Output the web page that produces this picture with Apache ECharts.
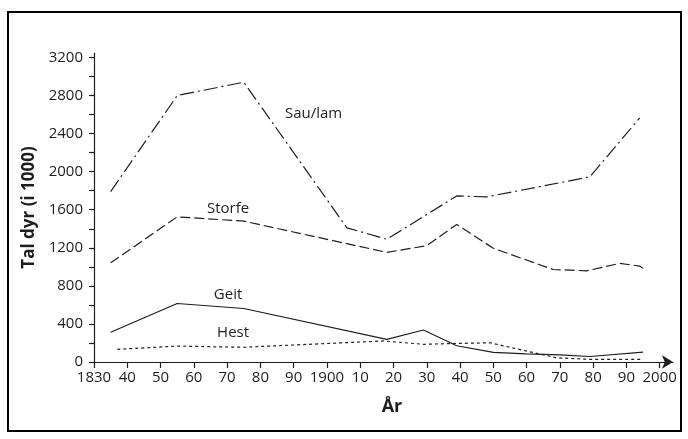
<!DOCTYPE html>
<html>
<head>
<meta charset="utf-8">
<script src="https://cdn.jsdelivr.net/npm/echarts@6/dist/echarts.min.js"></script>
<style>
  html, body { margin: 0; padding: 0; background: #fff; }
  #chart { width: 688px; height: 439px; }
</style>
</head>
<body>
<div id="chart"></div>
<script>
// values, [year, thousand animals]
const sauLam = [[1835, 1790], [1855, 2800], [1875, 2940], [1906, 1410], [1918, 1290],
  [1939, 1745], [1948, 1735], [1979, 1945], [1994, 2565]]
const storfe = [[1835, 1042], [1855, 1525], [1875, 1480], [1918, 1152], [1930, 1222],
  [1939, 1446], [1950, 1195], [1968, 972], [1978, 958], [1988, 1036], [1994, 1008], [1996, 958]]
const geit = [[1835, 313], [1855, 615], [1875, 562], [1918, 238], [1929, 336], [1939, 171],
  [1950, 102], [1960, 86], [1970, 75], [1979, 58], [1995, 104]]
const hest = [[1837, 133], [1855, 167], [1875, 155], [1917, 221], [1929, 186], [1939, 195],
  [1949, 202], [1969, 44], [1979, 28], [1995, 28]]

const xTickYears = [1830, 1840, 1850, 1860, 1870, 1880, 1890, 1900, 1910, 1920, 1930,
  1940, 1950, 1960, 1970, 1980, 1990, 2000]
const xTickLabels = ['1830', '40', '50', '60', '70', '80', '90', '1900', '10', '20', '30',
  '40', '50', '60', '70', '80', '90', '2000']
const yTickValues = [0, 200, 400, 600, 800, 1000, 1200, 1400, 1600, 1800, 2000, 2200,
  2400, 2600, 2800, 3000, 3200]
const yLabelValues = [0, 400, 800, 1200, 1600, 2000, 2400, 2800, 3200]

const INK = '#1e1e1e'
const FONT = 'Open Sans'

const chart = echarts.init(document.getElementById('chart'), null, { renderer: 'canvas' })

function lineSeries(name, data, dash, labelAt) {
  return {
    name,
    type: 'line',
    data,
    symbol: 'none',
    silent: true,
    animation: false,
    lineStyle: { color: INK, width: 1.2, type: dash },
    markPoint: {
      symbol: 'circle',
      symbolSize: 0,
      silent: true,
      itemStyle: { color: 'transparent' },
      label: { show: true, position: 'inside', formatter: name, color: INK, fontFamily: FONT, fontSize: 15 },
      data: [{ coord: labelAt }],
    },
  }
}

chart.setOption({
  backgroundColor: '#fff',
  animation: false,
  grid: { left: 94, top: 53, width: 579, height: 309 },
  xAxis: {
    type: 'value',
    min: 1830,
    max: 2004,
    name: 'År',
    nameLocation: 'middle',
    nameGap: 36,
    nameTextStyle: { color: INK, fontFamily: FONT, fontSize: 18, fontWeight: 'bold', padding: [0, 0, 0, 17] },
    axisLine: { show: true, symbol: ['none', 'arrow'], symbolSize: [10, 11], lineStyle: { color: INK, width: 1.2 } },
    axisTick: { show: true, length: 6, customValues: xTickYears, lineStyle: { color: INK, width: 1.2 } },
    axisLabel: {
      customValues: xTickYears,
      formatter: (v) => xTickLabels[xTickYears.indexOf(v)],
      color: INK, fontFamily: FONT, fontSize: 15, margin: 8,
    },
    splitLine: { show: false },
  },
  yAxis: {
    type: 'value',
    min: 0,
    max: 3247,
    name: 'Tal dyr (i 1000)',
    nameLocation: 'middle',
    nameGap: 52,
    nameTextStyle: { color: INK, fontFamily: FONT, fontSize: 17, fontWeight: 'bold' },
    axisLine: { show: true, lineStyle: { color: INK, width: 1.2 } },
    axisTick: { show: true, length: 5, customValues: yTickValues, lineStyle: { color: INK, width: 1.2 } },
    axisLabel: {
      customValues: yLabelValues,
      formatter: (v) => String(v),
      color: INK, fontFamily: FONT, fontSize: 15, margin: 11, padding: [0, 0, 8, 0],
    },
    splitLine: { show: false },
  },
  graphic: [{
    type: 'rect',
    silent: true,
    shape: { x: 8, y: 12, width: 673, height: 419 },
    style: { fill: 'none', stroke: '#000', lineWidth: 2 },
  }],
  series: [
    lineSeries('Sau/lam', sauLam, [14, 4, 2, 4], [1896, 2606]),
    lineSeries('Storfe', storfe, [10, 4], [1870.3, 1613]),
    lineSeries('Geit', geit, 'solid', [1870.3, 704]),
    lineSeries('Hest', hest, [3, 3], [1871.8, 305]),
  ],
})
</script>
</body>
</html>
